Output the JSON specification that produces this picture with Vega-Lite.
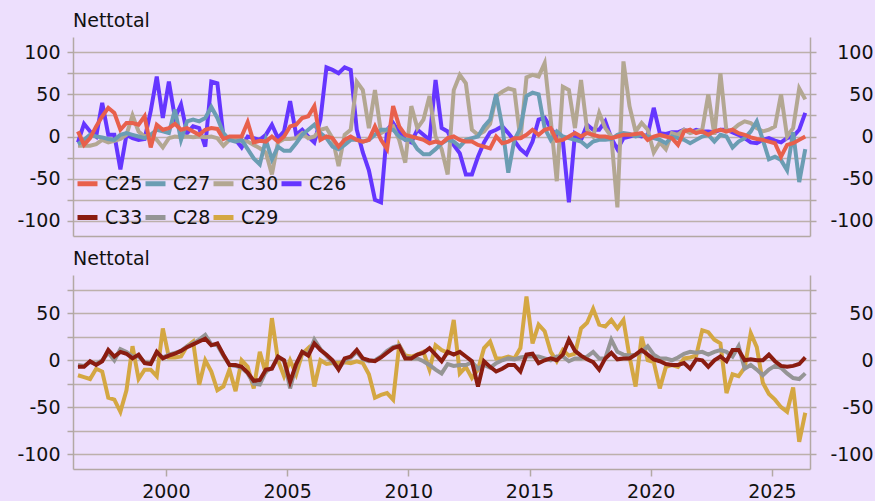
{
"$schema": "https://vega.github.io/schema/vega-lite/v6.json",
"background": "#EDDFFD",
"padding": {"left": 16, "right": 2, "top": 12, "bottom": 0},
"config": {
  "view": {"stroke": null},
  "font": "DejaVu Sans",
  "axis": {"labelFont": "DejaVu Sans", "labelFontSize": 19, "labelColor": "#111111", "domainColor": "#B3A8A4", "tickColor": "#B3A8A4", "gridColor": "#BDB0AB", "domainWidth": 1.5, "tickWidth": 1.5, "gridWidth": 1.5, "title": null},
  "title": {"font": "DejaVu Sans", "fontSize": 19, "fontWeight": "normal", "color": "#111111", "anchor": "start", "frame": "group", "offset": 6}
},
"data": {"values": [
{"t":1996.375,"C25":6,"C27":-9,"C30":-11,"C26":-7,"C33":-7,"C28":-5,"C29":-16},
{"t":1996.625,"C25":-10,"C27":-4,"C30":-11,"C26":15,"C33":-7,"C28":-6,"C29":-18},
{"t":1996.875,"C25":-2,"C27":2,"C30":-11,"C26":6,"C33":-1,"C28":-2,"C29":-20},
{"t":1997.125,"C25":12,"C27":0,"C30":-9,"C26":0,"C33":-5,"C28":-4,"C29":-9},
{"t":1997.375,"C25":24,"C27":-1,"C30":-4,"C26":40,"C33":-1,"C28":0,"C29":-12},
{"t":1997.625,"C25":34,"C27":-3,"C30":-7,"C26":2,"C33":11,"C28":8,"C29":-40},
{"t":1997.875,"C25":28,"C27":-4,"C30":-5,"C26":2,"C33":4,"C28":0,"C29":-42},
{"t":1998.125,"C25":8,"C27":2,"C30":-3,"C26":-39,"C33":9,"C28":12,"C29":-55},
{"t":1998.375,"C25":16,"C27":4,"C30":2,"C26":2,"C33":7,"C28":9,"C29":-32},
{"t":1998.625,"C25":16,"C27":2,"C30":25,"C26":-2,"C33":2,"C28":4,"C29":15},
{"t":1998.875,"C25":14,"C27":0,"C30":6,"C26":-4,"C33":6,"C28":4,"C29":-20},
{"t":1999.125,"C25":24,"C27":-2,"C30":0,"C26":-3,"C33":-3,"C28":-2,"C29":-10},
{"t":1999.375,"C25":-13,"C27":2,"C30":2,"C26":30,"C33":-4,"C28":-3,"C29":-10},
{"t":1999.625,"C25":14,"C27":8,"C30":-4,"C26":71,"C33":9,"C28":8,"C29":-17},
{"t":1999.875,"C25":8,"C27":6,"C30":-13,"C26":22,"C33":2,"C28":3,"C29":34},
{"t":2000.125,"C25":10,"C27":4,"C30":-2,"C26":65,"C33":5,"C28":6,"C29":3},
{"t":2000.375,"C25":15,"C27":32,"C30":0,"C26":22,"C33":7,"C28":8,"C29":3},
{"t":2000.625,"C25":8,"C27":-4,"C30":-1,"C26":38,"C33":10,"C28":10,"C29":4},
{"t":2000.875,"C25":10,"C27":18,"C30":0,"C26":4,"C33":14,"C28":15,"C29":15},
{"t":2001.125,"C25":6,"C27":20,"C30":-1,"C26":12,"C33":17,"C28":18,"C29":20},
{"t":2001.375,"C25":2,"C27":18,"C30":0,"C26":10,"C33":20,"C28":22,"C29":-26},
{"t":2001.625,"C25":8,"C27":22,"C30":-1,"C26":-12,"C33":23,"C28":27,"C29":0},
{"t":2001.875,"C25":10,"C27":35,"C30":0,"C26":65,"C33":16,"C28":17,"C29":-12},
{"t":2002.125,"C25":9,"C27":22,"C30":-2,"C26":63,"C33":18,"C28":16,"C29":-32},
{"t":2002.375,"C25":-3,"C27":4,"C30":-11,"C26":0,"C33":6,"C28":5,"C29":-28},
{"t":2002.625,"C25":0,"C27":-4,"C30":-4,"C26":-4,"C33":-5,"C28":-5,"C29":-10},
{"t":2002.875,"C25":0,"C27":-6,"C30":-4,"C26":-4,"C33":-5,"C28":-6,"C29":-33},
{"t":2003.125,"C25":0,"C27":-4,"C30":-5,"C26":-13,"C33":-7,"C28":-8,"C29":0},
{"t":2003.375,"C25":17,"C27":-15,"C30":-6,"C26":0,"C33":-13,"C28":-14,"C29":-7},
{"t":2003.625,"C25":-7,"C27":-26,"C30":-10,"C26":-2,"C33":-22,"C28":-25,"C29":-30},
{"t":2003.875,"C25":-5,"C27":-33,"C30":-14,"C26":-4,"C33":-21,"C28":-26,"C29":9},
{"t":2004.125,"C25":-6,"C27":-4,"C30":-19,"C26":2,"C33":-10,"C28":-12,"C29":-14},
{"t":2004.375,"C25":0,"C27":-27,"C30":-45,"C26":14,"C33":-9,"C28":-8,"C29":45},
{"t":2004.625,"C25":-6,"C27":-12,"C30":-7,"C26":-2,"C33":4,"C28":3,"C29":0},
{"t":2004.875,"C25":0,"C27":-17,"C30":-3,"C26":6,"C33":0,"C28":0,"C29":-17},
{"t":2005.125,"C25":12,"C27":-17,"C30":-3,"C26":42,"C33":-23,"C28":-30,"C29":0},
{"t":2005.375,"C25":14,"C27":-8,"C30":-2,"C26":2,"C33":-4,"C28":-5,"C29":-15},
{"t":2005.625,"C25":22,"C27":2,"C30":4,"C26":8,"C33":9,"C28":9,"C29":7},
{"t":2005.875,"C25":24,"C27":8,"C30":-2,"C26":0,"C33":5,"C28":6,"C29":13},
{"t":2006.125,"C25":36,"C27":14,"C30":0,"C26":-7,"C33":18,"C28":22,"C29":-28},
{"t":2006.375,"C25":-4,"C27":4,"C30":8,"C26":20,"C33":11,"C28":12,"C29":0},
{"t":2006.625,"C25":0,"C27":-2,"C30":10,"C26":82,"C33":6,"C28":5,"C29":-4},
{"t":2006.875,"C25":-2,"C27":-12,"C30":-2,"C26":79,"C33":0,"C28":-2,"C29":-3},
{"t":2007.125,"C25":-12,"C27":-15,"C30":-35,"C26":75,"C33":-10,"C28":-9,"C29":-3},
{"t":2007.375,"C25":-4,"C27":-10,"C30":2,"C26":82,"C33":2,"C28":0,"C29":-2},
{"t":2007.625,"C25":0,"C27":-4,"C30":8,"C26":79,"C33":4,"C28":3,"C29":-3},
{"t":2007.875,"C25":-4,"C27":-4,"C30":65,"C26":8,"C33":11,"C28":9,"C29":-1},
{"t":2008.125,"C25":-6,"C27":-6,"C30":55,"C26":-19,"C33":2,"C28":1,"C29":-3},
{"t":2008.375,"C25":-4,"C27":-4,"C30":10,"C26":-40,"C33":0,"C28":-1,"C29":-15},
{"t":2008.625,"C25":12,"C27":2,"C30":55,"C26":-75,"C33":-1,"C28":0,"C29":-40},
{"t":2008.875,"C25":-4,"C27":8,"C30":4,"C26":-78,"C33":3,"C28":4,"C29":-37},
{"t":2009.125,"C25":-15,"C27":8,"C30":8,"C26":8,"C33":8,"C28":10,"C29":-35},
{"t":2009.375,"C25":36,"C27":8,"C30":12,"C26":16,"C33":13,"C28":14,"C29":-42},
{"t":2009.625,"C25":12,"C27":0,"C30":-4,"C26":5,"C33":15,"C28":16,"C29":16},
{"t":2009.875,"C25":2,"C27":-4,"C30":-31,"C26":-4,"C33":2,"C28":3,"C29":5},
{"t":2010.125,"C25":0,"C27":-4,"C30":36,"C26":-7,"C33":2,"C28":2,"C29":4},
{"t":2010.375,"C25":-2,"C27":-15,"C30":10,"C26":8,"C33":6,"C28":2,"C29":6},
{"t":2010.625,"C25":-4,"C27":-21,"C30":20,"C26":2,"C33":8,"C28":-1,"C29":9},
{"t":2010.875,"C25":-8,"C27":-21,"C30":48,"C26":-4,"C33":13,"C28":-5,"C29":-10},
{"t":2011.125,"C25":-6,"C27":-15,"C30":0,"C26":67,"C33":6,"C28":-10,"C29":16},
{"t":2011.375,"C25":-8,"C27":-8,"C30":-15,"C26":10,"C33":-1,"C28":-14,"C29":11},
{"t":2011.625,"C25":-2,"C27":-4,"C30":-45,"C26":6,"C33":9,"C28":-4,"C29":8},
{"t":2011.875,"C25":0,"C27":-6,"C30":55,"C26":-10,"C33":6,"C28":-6,"C29":43},
{"t":2012.125,"C25":-4,"C27":-12,"C30":73,"C26":-20,"C33":9,"C28":-5,"C29":-14},
{"t":2012.375,"C25":-6,"C27":-4,"C30":63,"C26":-45,"C33":4,"C28":-5,"C29":-7},
{"t":2012.625,"C25":-6,"C27":-2,"C30":8,"C26":-45,"C33":-1,"C28":-2,"C29":-19},
{"t":2012.875,"C25":-10,"C27":0,"C30":2,"C26":-24,"C33":-28,"C28":-9,"C29":-10},
{"t":2013.125,"C25":-12,"C27":12,"C30":6,"C26":-7,"C33":-1,"C28":-5,"C29":13},
{"t":2013.375,"C25":-14,"C27":20,"C30":15,"C26":5,"C33":-7,"C28":-8,"C29":20},
{"t":2013.625,"C25":0,"C27":50,"C30":48,"C26":8,"C33":-12,"C28":-3,"C29":2},
{"t":2013.875,"C25":-8,"C27":12,"C30":53,"C26":12,"C33":-9,"C28":0,"C29":2},
{"t":2014.125,"C25":-6,"C27":-43,"C30":57,"C26":4,"C33":-5,"C28":2,"C29":4},
{"t":2014.375,"C25":-2,"C27":-4,"C30":55,"C26":-5,"C33":-5,"C28":1,"C29":2},
{"t":2014.625,"C25":-2,"C27":10,"C30":-4,"C26":-15,"C33":-12,"C28":3,"C29":13},
{"t":2014.875,"C25":2,"C27":48,"C30":70,"C26":-21,"C33":6,"C28":4,"C29":68},
{"t":2015.125,"C25":8,"C27":52,"C30":73,"C26":-6,"C33":7,"C28":4,"C29":18},
{"t":2015.375,"C25":2,"C27":50,"C30":71,"C26":20,"C33":-3,"C28":4,"C29":38},
{"t":2015.625,"C25":8,"C27":10,"C30":87,"C26":22,"C33":0,"C28":2,"C29":31},
{"t":2015.875,"C25":10,"C27":-4,"C30":20,"C26":10,"C33":2,"C28":0,"C29":9},
{"t":2016.125,"C25":-5,"C27":6,"C30":-53,"C26":0,"C33":0,"C28":4,"C29":-1},
{"t":2016.375,"C25":-4,"C27":0,"C30":59,"C26":-5,"C33":6,"C28":4,"C29":11},
{"t":2016.625,"C25":0,"C27":-2,"C30":55,"C26":-78,"C33":22,"C28":-1,"C29":5},
{"t":2016.875,"C25":4,"C27":-4,"C30":10,"C26":3,"C33":10,"C28":2,"C29":7},
{"t":2017.125,"C25":0,"C27":-6,"C30":67,"C26":-4,"C33":5,"C28":2,"C29":34},
{"t":2017.375,"C25":4,"C27":-12,"C30":8,"C26":14,"C33":1,"C28":4,"C29":40},
{"t":2017.625,"C25":2,"C27":-6,"C30":0,"C26":8,"C33":-2,"C28":9,"C29":55},
{"t":2017.875,"C25":0,"C27":-4,"C30":28,"C26":8,"C33":-10,"C28":2,"C29":38},
{"t":2018.125,"C25":0,"C27":-4,"C30":10,"C26":18,"C33":2,"C28":2,"C29":36},
{"t":2018.375,"C25":-2,"C27":-3,"C30":0,"C26":-2,"C33":8,"C28":22,"C29":43},
{"t":2018.625,"C25":0,"C27":2,"C30":-84,"C26":-15,"C33":1,"C28":9,"C29":34},
{"t":2018.875,"C25":2,"C27":4,"C30":89,"C26":-2,"C33":2,"C28":6,"C29":43},
{"t":2019.125,"C25":2,"C27":3,"C30":36,"C26":0,"C33":2,"C28":5,"C29":4},
{"t":2019.375,"C25":3,"C27":0,"C30":6,"C26":2,"C33":6,"C28":6,"C29":-28},
{"t":2019.625,"C25":4,"C27":2,"C30":16,"C26":0,"C33":11,"C28":9,"C29":25},
{"t":2019.875,"C25":-4,"C27":0,"C30":8,"C26":2,"C33":6,"C28":15,"C29":0},
{"t":2020.125,"C25":0,"C27":-2,"C30":-19,"C26":34,"C33":1,"C28":6,"C29":-2},
{"t":2020.375,"C25":2,"C27":-4,"C30":-7,"C26":4,"C33":-1,"C28":2,"C29":-30},
{"t":2020.625,"C25":0,"C27":-8,"C30":-15,"C26":3,"C33":-4,"C28":2,"C29":-7},
{"t":2020.875,"C25":-2,"C27":0,"C30":4,"C26":5,"C33":-5,"C28":0,"C29":-5},
{"t":2021.125,"C25":-10,"C27":-2,"C30":2,"C26":5,"C33":-5,"C28":3,"C29":-7},
{"t":2021.375,"C25":6,"C27":-4,"C30":8,"C26":8,"C33":-3,"C28":7,"C29":2},
{"t":2021.625,"C25":8,"C27":-8,"C30":4,"C26":5,"C33":-9,"C28":9,"C29":3},
{"t":2021.875,"C25":4,"C27":-4,"C30":6,"C26":8,"C33":1,"C28":8,"C29":5},
{"t":2022.125,"C25":6,"C27":0,"C30":8,"C26":6,"C33":0,"C28":9,"C29":32},
{"t":2022.375,"C25":2,"C27":2,"C30":50,"C26":6,"C33":-7,"C28":6,"C29":30},
{"t":2022.625,"C25":6,"C27":-6,"C30":2,"C26":5,"C33":0,"C28":9,"C29":22},
{"t":2022.875,"C25":8,"C27":2,"C30":75,"C26":8,"C33":4,"C28":11,"C29":18},
{"t":2023.125,"C25":6,"C27":0,"C30":6,"C26":8,"C33":-1,"C28":9,"C29":-35},
{"t":2023.375,"C25":8,"C27":-13,"C30":8,"C26":5,"C33":11,"C28":4,"C29":-15},
{"t":2023.625,"C25":4,"C27":-6,"C30":14,"C26":2,"C33":11,"C28":15,"C29":-17},
{"t":2023.875,"C25":2,"C27":-2,"C30":18,"C26":-2,"C33":0,"C28":-9,"C29":-8},
{"t":2024.125,"C25":-1,"C27":6,"C30":16,"C26":-7,"C33":1,"C28":-5,"C29":29},
{"t":2024.375,"C25":-3,"C27":18,"C30":10,"C26":-8,"C33":0,"C28":-10,"C29":14},
{"t":2024.625,"C25":-4,"C27":-4,"C30":6,"C26":-4,"C33":0,"C28":-16,"C29":-24},
{"t":2024.875,"C25":-6,"C27":-27,"C30":8,"C26":-2,"C33":6,"C28":-10,"C29":-36},
{"t":2025.125,"C25":-8,"C27":-24,"C30":12,"C26":-5,"C33":-1,"C28":-6,"C29":-42},
{"t":2025.375,"C25":-24,"C27":-28,"C30":50,"C26":-7,"C33":-6,"C28":-8,"C29":-50},
{"t":2025.625,"C25":-10,"C27":-40,"C30":0,"C26":-2,"C33":-7,"C28":-14,"C29":-55},
{"t":2025.875,"C25":-8,"C27":5,"C30":10,"C26":0,"C33":-6,"C28":-19,"C29":-29},
{"t":2026.125,"C25":-4,"C27":-54,"C30":57,"C26":8,"C33":-4,"C28":-20,"C29":-87},
{"t":2026.375,"C25":0,"C27":-15,"C30":44,"C26":28,"C33":3,"C28":-14,"C29":-56}
]},
"spacing": 14,
"resolve": {"scale": {"color": "shared"}, "legend": {"color": "independent"}},
"vconcat": [
  {
    "width": 737, "height": 199,
    "title": {"text": "Nettotal"},
    "transform": [{"fold": ["C26", "C30", "C27", "C25"], "as": ["series", "value"]}],
    "layer": [
      {
        "mark": {"type": "line", "strokeWidth": 4},
        "encoding": {
          "x": {"field": "t", "type": "quantitative", "scale": {"domain": [1996.17, 2026.57], "nice": false, "zero": false}, "axis": {"ticks": false, "labels": false, "grid": false}},
          "y": {"field": "value", "type": "quantitative", "scale": {"domain": [-118, 118], "nice": false, "zero": false}, "axis": {"orient": "left", "values": [-100, -75, -50, -25, 0, 25, 50, 75, 100], "labelExpr": "datum.value % 50 === 0 ? '' + datum.value : ''", "grid": true, "tickSize": 6, "labelPadding": 7}},
          "color": {"field": "series", "type": "nominal",
            "scale": {"domain": ["C25", "C27", "C30", "C26", "C33", "C28", "C29"], "range": ["#E8604C", "#6B9DB3", "#B3A792", "#6536FF", "#8A1C10", "#959595", "#D4A743"]},
            "legend": {"orient": "none", "legendX": 2, "legendY": 134, "columns": 4, "title": null, "symbolType": "stroke", "symbolStrokeWidth": 5, "symbolSize": 400, "labelFont": "DejaVu Sans", "labelFontSize": 19, "labelColor": "#111111", "rowPadding": 11, "columnPadding": -8, "labelOffset": 5, "direction": "horizontal"}}
        }
      },
      {
        "mark": {"type": "line", "opacity": 0},
        "encoding": {
          "x": {"field": "t", "type": "quantitative", "scale": {"domain": [1996.17, 2026.57], "nice": false, "zero": false}, "axis": {"ticks": false, "labels": false, "grid": false}},
          "y": {"field": "value", "type": "quantitative", "scale": {"domain": [-118, 118], "nice": false, "zero": false}, "axis": {"orient": "right", "values": [-100, -75, -50, -25, 0, 25, 50, 75, 100], "labelExpr": "datum.value % 50 === 0 ? '' + datum.value : ''", "grid": false, "tickSize": 6, "labelAlign": "right", "labelPadding": 57}}
        }
      }
    ],
    "resolve": {"scale": {"y": "independent"}}
  },
  {
    "width": 737, "height": 194,
    "title": {"text": "Nettotal"},
    "transform": [{"fold": ["C29", "C28", "C33"], "as": ["series", "value"]}],
    "layer": [
      {
        "mark": {"type": "line", "strokeWidth": 4},
        "encoding": {
          "x": {"field": "t", "type": "quantitative", "scale": {"domain": [1996.17, 2026.57], "nice": false, "zero": false}, "axis": {"values": [2000, 2005, 2010, 2015, 2020, 2025], "format": "d", "grid": false, "tickSize": 7, "labelPadding": 6}},
          "y": {"field": "value", "type": "quantitative", "scale": {"domain": [-116, 91], "nice": false, "zero": false}, "axis": {"orient": "left", "values": [-100, -75, -50, -25, 0, 25, 50, 75], "labelExpr": "datum.value % 50 === 0 ? '' + datum.value : ''", "grid": true, "tickSize": 6, "labelPadding": 7}},
          "color": {"field": "series", "type": "nominal",
            "scale": {"domain": ["C25", "C27", "C30", "C26", "C33", "C28", "C29"], "range": ["#E8604C", "#6B9DB3", "#B3A792", "#6536FF", "#8A1C10", "#959595", "#D4A743"]},
            "legend": null}
        }
      },
      {
        "mark": {"type": "line", "opacity": 0},
        "encoding": {
          "x": {"field": "t", "type": "quantitative", "scale": {"domain": [1996.17, 2026.57], "nice": false, "zero": false}, "axis": {"values": [2000, 2005, 2010, 2015, 2020, 2025], "format": "d", "grid": false, "tickSize": 7, "labelPadding": 6}},
          "y": {"field": "value", "type": "quantitative", "scale": {"domain": [-116, 91], "nice": false, "zero": false}, "axis": {"orient": "right", "values": [-100, -75, -50, -25, 0, 25, 50, 75], "labelExpr": "datum.value % 50 === 0 ? '' + datum.value : ''", "grid": false, "tickSize": 6, "labelAlign": "right", "labelPadding": 57}}
        }
      }
    ],
    "resolve": {"scale": {"y": "independent"}}
  }
]
}
